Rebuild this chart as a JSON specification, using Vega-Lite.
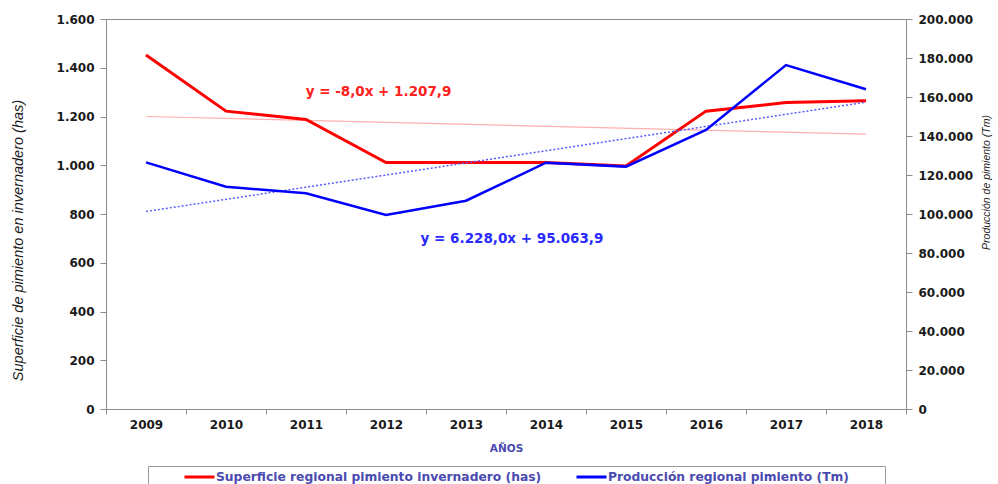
{
  "$schema": "https://vega.github.io/schema/vega-lite/v6.json",
  "width": 800,
  "height": 390,
  "autosize": "none",
  "padding": {"left": 106, "top": 19, "right": 92, "bottom": 75},
  "background": "white",
  "config": {
    "locale": {"number": {"decimal": ",", "thousands": ".", "grouping": [3], "currency": ["", " €"]}},
    "view": {"stroke": "#8c8c8c", "strokeWidth": 1},
    "axis": {
      "domainColor": "#8c8c8c",
      "tickColor": "#8c8c8c",
      "grid": false,
      "labelFont": "DejaVu Sans",
      "labelFontWeight": "bold",
      "labelFontSize": 12,
      "labelColor": "#1a1a1a",
      "titleFont": "Liberation Sans",
      "titleFontStyle": "italic",
      "titleFontWeight": "normal",
      "titleColor": "#1a1a1a"
    }
  },
  "data": {
    "values": [
      {"year": "2009", "sup": 1452, "prod": 126500, "tsup": 1199.9, "tprod": 101291.9},
      {"year": "2010", "sup": 1222, "prod": 114000, "tsup": null, "tprod": null},
      {"year": "2011", "sup": 1188, "prod": 110600, "tsup": null, "tprod": null},
      {"year": "2012", "sup": 1011, "prod": 99500, "tsup": null, "tprod": null},
      {"year": "2013", "sup": 1011, "prod": 106800, "tsup": null, "tprod": null},
      {"year": "2014", "sup": 1011, "prod": 126300, "tsup": null, "tprod": null},
      {"year": "2015", "sup": 997, "prod": 124300, "tsup": null, "tprod": null},
      {"year": "2016", "sup": 1222, "prod": 143100, "tsup": null, "tprod": null},
      {"year": "2017", "sup": 1257, "prod": 176400, "tsup": null, "tprod": null},
      {"year": "2018", "sup": 1265, "prod": 164000, "tsup": 1127.9, "tprod": 157343.9}
    ]
  },
  "encoding": {
    "x": {
      "field": "year",
      "type": "ordinal",
      "bandPosition": 0.5,
      "scale": {"type": "band", "paddingInner": 0, "paddingOuter": 0, "domain": ["2009","2010","2011","2012","2013","2014","2015","2016","2017","2018"]},
      "axis": {
        "title": "AÑOS",
        "labelAngle": 0,
        "tickBand": "extent",
        "tickSize": 5,
        "labelPadding": 5,
        "titlePadding": 13,
        "titleColor": "#4a4ab0",
        "titleFont": "DejaVu Sans",
        "titleFontStyle": "normal",
        "titleFontWeight": "bold",
        "titleFontSize": 10.5
      }
    }
  },
  "layer": [
    {
      "resolve": {"scale": {"y": "shared"}, "axis": {"y": "shared"}},
      "encoding": {
        "y": {
          "type": "quantitative",
          "scale": {"domain": [0, 1600], "nice": false},
          "axis": {
            "orient": "left",
            "title": "Superficie de pimiento en invernadero (has)",
            "values": [0, 200, 400, 600, 800, 1000, 1200, 1400, 1600],
            "format": ",.0f",
            "tickSize": 6,
            "labelPadding": 6,
            "titleFontSize": 14.5,
            "titleAngle": 270,
            "titleBaseline": "middle",
            "titleAlign": "center",
            "titleX": -88,
            "titleY": 221
          }
        }
      },
      "layer": [
        {
          "mark": {"type": "line", "color": "#ffb0b0", "strokeWidth": 1.2, "invalid": "filter"},
          "encoding": {"y": {"field": "tsup"}}
        },
        {
          "mark": {"type": "line", "strokeWidth": 3},
          "encoding": {
            "y": {"field": "sup"},
            "color": {
              "datum": "Superficie regional pimiento invernadero (has)",
              "type": "nominal",
              "scale": {
                "domain": ["Superficie regional pimiento invernadero (has)", "Producción regional pimiento (Tm)"],
                "range": ["#ff0000", "#0000ff"]
              },
              "legend": {
                "orient": "none",
                "legendX": 42,
                "legendY": 447,
                "direction": "horizontal",
                "title": "\u00a0",
                "titleOrient": "right",
                "titlePadding": 32,
                "strokeColor": "#9a9a9a",
                "fillColor": "white",
                "padding": 4,
                "symbolType": "stroke",
                "symbolSize": 900,
                "symbolStrokeWidth": 3,
                "symbolOffset": 31,
                "labelOffset": 0,
                "columnPadding": 2,
                "clipHeight": 14,
                "labelFont": "DejaVu Sans",
                "labelFontWeight": "bold",
                "labelFontSize": 12.3,
                "labelColor": "#4a4ab0",
                "labelLimit": 0
              }
            }
          }
        },
        {
          "data": {"values": [{"year": "2012", "v": 1300, "label": "y = -8,0x + 1.207,9"}]},
          "mark": {"type": "text", "color": "#ff2020", "font": "DejaVu Sans", "fontWeight": "bold", "fontSize": 13.5, "dx": -7.5, "baseline": "middle", "align": "center"},
          "encoding": {
            "y": {"field": "v"},
            "text": {"field": "label"}
          }
        }
      ]
    },
    {
      "resolve": {"scale": {"y": "shared"}, "axis": {"y": "shared"}},
      "encoding": {
        "y": {
          "type": "quantitative",
          "scale": {"domain": [0, 200000], "nice": false},
          "axis": {
            "orient": "right",
            "title": "Producción de pimiento (Tm)",
            "values": [0, 20000, 40000, 60000, 80000, 100000, 120000, 140000, 160000, 180000, 200000],
            "format": ",.0f",
            "tickSize": 6,
            "labelPadding": 6,
            "titleFontSize": 10.5,
            "titleAngle": 270,
            "titleBaseline": "middle",
            "titleAlign": "center",
            "titleX": 80,
            "titleY": 163
          }
        }
      },
      "layer": [
        {
          "mark": {"type": "line", "color": "#5a5aff", "strokeWidth": 1.5, "strokeDash": [2, 2], "invalid": "filter"},
          "encoding": {"y": {"field": "tprod"}}
        },
        {
          "mark": {"type": "line", "strokeWidth": 2.5},
          "encoding": {
            "y": {"field": "prod"},
            "color": {"datum": "Producción regional pimiento (Tm)", "type": "nominal"}
          }
        },
        {
          "data": {"values": [{"year": "2014", "v": 87180, "label": "y = 6.228,0x + 95.063,9"}]},
          "mark": {"type": "text", "color": "#2a2aff", "font": "DejaVu Sans", "fontWeight": "bold", "fontSize": 13.5, "dx": -34, "baseline": "middle", "align": "center"},
          "encoding": {
            "y": {"field": "v"},
            "text": {"field": "label"}
          }
        }
      ]
    }
  ],
  "resolve": {"scale": {"y": "independent"}, "axis": {"y": "independent"}}
}
